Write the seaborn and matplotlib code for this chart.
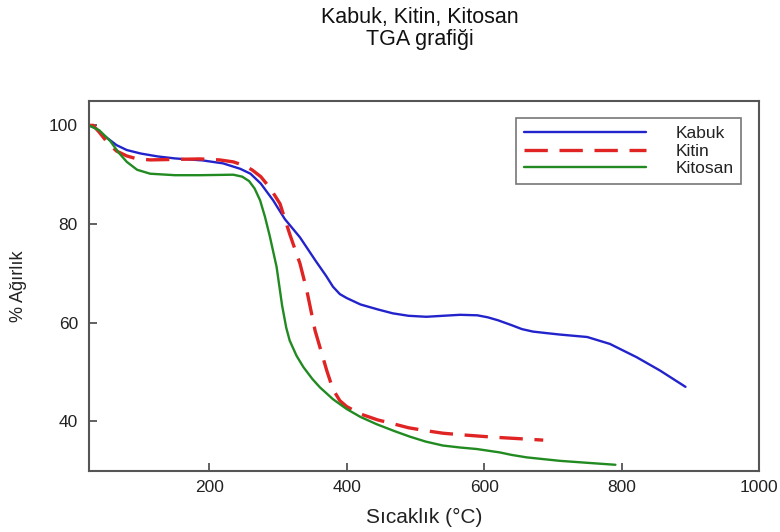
import matplotlib
matplotlib.use("Agg")
import matplotlib.pyplot as plt
import seaborn as sns
import pandas as pd

# ---- data ----
kabuk_x = [25, 35, 50, 65, 80, 100, 125, 150, 190, 220, 245, 260, 275, 293, 310, 332, 355, 370,
           380, 390, 400, 420, 445, 467, 490, 516, 540, 565, 590, 605, 620, 640, 655, 671, 690,
           710, 750, 783, 822, 856, 893]
kabuk_y = [100, 99.4, 97.6, 96.0, 95.0, 94.3, 93.7, 93.3, 92.9, 92.3, 91.2, 90.2, 88.2, 84.8,
           81.0, 77.3, 72.5, 69.5, 67.3, 65.8, 65.0, 63.7, 62.7, 61.9, 61.4, 61.2, 61.4, 61.6,
           61.5, 61.1, 60.5, 59.5, 58.7, 58.2, 57.9, 57.6, 57.1, 55.7, 53.0, 50.3, 47.0]

kitin_x = [25, 31, 40, 52, 65, 80, 95, 114, 150, 186, 215, 235, 250, 262, 275, 289, 303, 317,
           332, 342, 354, 371, 380, 390, 400, 420, 445, 468, 490, 516, 540, 565, 613, 650, 686]
kitin_y = [100, 100, 98.6, 96.5, 94.8, 93.8, 93.2, 93.0, 93.1, 93.2, 93.0, 92.6, 91.9, 91.0,
           89.6, 87.2, 84.1, 78.0, 72.0, 66.5, 58.4, 50.3, 46.5, 44.2, 43.0, 41.5, 40.3, 39.5,
           38.7, 38.1, 37.6, 37.3, 36.8, 36.5, 36.2]

kitosan_x = [25, 40, 56, 68, 80, 95, 114, 150, 187, 235, 248, 258, 266, 274, 281, 288, 298, 306,
             312, 317, 327, 337, 350, 361, 380, 400, 420, 444, 470, 492, 515, 540, 565, 589,
             623, 640, 662, 710, 750, 791]
kitosan_y = [100, 99.0, 96.8, 94.5, 92.6, 91.0, 90.2, 89.9, 89.9, 90.0, 89.6, 88.7, 87.2, 84.8,
             81.5, 77.6, 71.3, 63.5, 59.0, 56.4, 53.3, 51.0, 48.6, 46.9, 44.5, 42.5, 40.9, 39.4,
             38.0, 36.9, 35.9, 35.1, 34.7, 34.4, 33.7, 33.2, 32.7, 32.0, 31.6, 31.2]

series_names = ["Kabuk", "Kitin", "Kitosan"]
x_ticks = [200, 400, 600, 800, 1000]
y_ticks = [40, 60, 80, 100]

title_lines = ["Kabuk, Kitin, Kitosan", "TGA grafiği"]
x_label = "Sıcaklık (°C)"
y_label = "% Ağırlık"

# ---- style ----
sns.set_theme(style="ticks")
plt.rcParams["font.family"] = ["Liberation Sans", "DejaVu Sans"]

colors = {"Kabuk": "#2323cc", "Kitin": "#e02424", "Kitosan": "#218a21"}

fig = plt.figure(figsize=(7.8, 5.32), dpi=100)
W, H = 780, 532
ax = fig.add_axes([89 / W, 1 - 470.7 / H, (759 - 89) / W, (470.7 - 100.7) / H])

data = {
    "Kabuk": (kabuk_x, kabuk_y),
    "Kitin": (kitin_x, kitin_y),
    "Kitosan": (kitosan_x, kitosan_y),
}
for name in series_names:
    xs, ys = data[name]
    df = pd.DataFrame({"x": xs, "y": ys})
    if name == "Kitin":
        sns.lineplot(data=df, x="x", y="y", ax=ax, color=colors[name], lw=2.4,
                     label=name, sort=False, estimator=None)
        ax.lines[-1].set_dashes((7, 3.5))
    else:
        sns.lineplot(data=df, x="x", y="y", ax=ax, color=colors[name], lw=1.7,
                     label=name, sort=False, estimator=None)

ax.set_xlim(25, 1000)
ax.set_ylim(30, 105)
ax.set_xticks(x_ticks)
ax.set_yticks(y_ticks)
ax.tick_params(axis="both", which="major", direction="in", length=6, width=1.3,
               color="#555555", labelsize=12.5, labelcolor="#222222",
               bottom=True, left=True, top=False, right=False)
ax.tick_params(axis="x", pad=7)
ax.tick_params(axis="y", pad=8)
for s in ax.spines.values():
    s.set_visible(True)
    s.set_color("#555555")
    s.set_linewidth(1.5)

ax.set_xlabel(x_label, fontsize=15, color="#222222", labelpad=9)
ax.set_ylabel(y_label, fontsize=13, color="#222222", labelpad=16)

leg = ax.legend(loc="upper left", bbox_to_anchor=(0.638, 0.952), frameon=True,
                fancybox=False, edgecolor="#555555", fontsize=12.5,
                handlelength=7.0, handletextpad=1.7, borderpad=0.45,
                labelspacing=0.12, borderaxespad=0)
leg.get_frame().set_linewidth(1.2)
for t in leg.get_texts():
    t.set_color("#222222")

fig.text(420 / W, 1 - 17 / H, title_lines[0], ha="center", va="center", fontsize=15.5,
         color="#111111")
fig.text(420 / W, 1 - 40 / H, title_lines[1], ha="center", va="center", fontsize=15.5,
         color="#111111")

fig.savefig("out.png", dpi=100)
